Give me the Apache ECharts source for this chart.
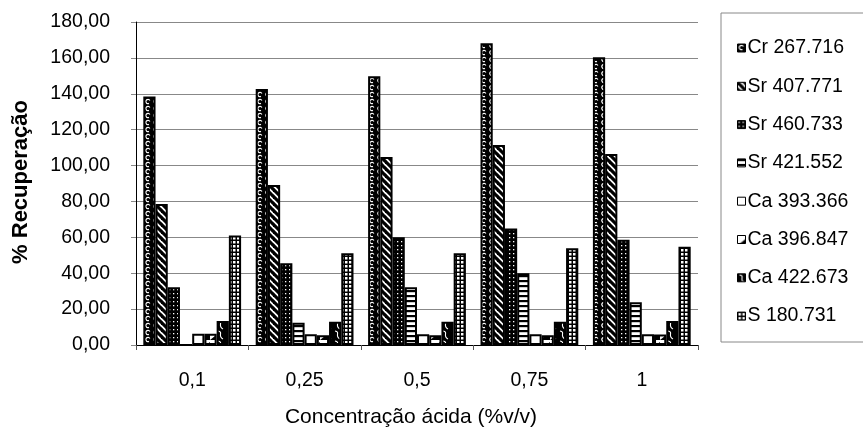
<!DOCTYPE html>
<html>
<head>
<meta charset="utf-8">
<script src="https://cdn.jsdelivr.net/npm/echarts@6/dist/echarts.min.js"></script>
<style>
  html, body { margin: 0; padding: 0; background: #fff; }
  #chart { width: 863px; height: 428px; }
</style>
</head>
<body>
<div id="chart"></div>
<script>
// Acid concentration groups on the x axis
const categories = ['0,1', '0,25', '0,5', '0,75', '1'];

// Emission lines shown in the legend
const seriesNames = ['Cr 267.716', 'Sr 407.771', 'Sr 460.733', 'Sr 421.552',
                     'Ca 393.366', 'Ca 396.847', 'Ca 422.673', 'S 180.731'];

// % recovery per line, one value per concentration
const cr267 = [138.5, 142.6, 149.7, 168.2, 160.4];
const sr407 = [78.6, 89.2, 104.7, 111.5, 106.5];
const sr460 = [32.2, 45.6, 60.0, 64.9, 58.6];
const sr421 = [0, 12.4, 32.2, 40.0, 23.8];
const ca393 = [6.3, 6.0, 6.0, 6.0, 6.0];
const ca396 = [6.2, 5.5, 5.5, 5.5, 5.8];
const ca422 = [13.4, 13.0, 13.0, 13.0, 13.4];
const s180 = [61.0, 51.1, 51.1, 53.9, 54.8];

const seriesValues = [cr267, sr407, sr460, sr421, ca393, ca396, ca422, s180];

// y scale
const yMin = 0, yMax = 180, yStep = 20;

// --- monochrome fill patterns drawn on small canvas tiles ---
function tile(w, h, draw) {
  const c = document.createElement('canvas');
  c.width = w; c.height = h;
  const g = c.getContext('2d');
  draw(g, w, h);
  return { image: c, repeat: 'repeat' };
}

const fills = [
  // rings chained vertically, white on black
  tile(8, 7, (g, w, h) => {
    g.fillStyle = '#000'; g.fillRect(0, 0, w, h);
    g.strokeStyle = '#fff'; g.lineWidth = 1.2;
    g.beginPath(); g.arc(4, 3.5, 2.1, 0.35 * Math.PI, 1.85 * Math.PI); g.stroke();
  }),
  // wide black backslash stripes on white
  tile(7, 7, (g, w, h) => {
    g.fillStyle = '#fff'; g.fillRect(0, 0, w, h);
    g.strokeStyle = '#000'; g.lineWidth = 3.2;
    for (let o = -w; o <= w; o += w) {
      g.beginPath(); g.moveTo(o - 1, -1); g.lineTo(o + w + 1, h + 1); g.stroke();
    }
  }),
  // white dots on black
  tile(4, 4, (g, w, h) => {
    g.fillStyle = '#000'; g.fillRect(0, 0, w, h);
    g.fillStyle = '#fff'; g.fillRect(1, 1, 1.3, 1.3);
  }),
  // horizontal stripes
  tile(4, 5, (g, w, h) => {
    g.fillStyle = '#fff'; g.fillRect(0, 0, w, h);
    g.fillStyle = '#000'; g.fillRect(0, 0, w, 2.2);
  }),
  // plain white
  tile(4, 4, (g, w, h) => {
    g.fillStyle = '#fff'; g.fillRect(0, 0, w, h);
  }),
  // large diagonal wedge
  tile(10, 10, (g, w, h) => {
    g.fillStyle = '#fff'; g.fillRect(0, 0, w, h);
    g.fillStyle = '#000';
    g.beginPath(); g.moveTo(0, h); g.lineTo(w, 2); g.lineTo(w, h); g.closePath(); g.fill();
  }),
  // white squiggles on black
  tile(9, 10, (g, w, h) => {
    g.fillStyle = '#000'; g.fillRect(0, 0, w, h);
    g.strokeStyle = '#fff'; g.lineWidth = 1.1;
    g.beginPath(); g.moveTo(2, 1); g.bezierCurveTo(8, 2, 1, 6, 7, 9); g.stroke();
  }),
  // small white squares in a black grid
  tile(4, 4, (g, w, h) => {
    g.fillStyle = '#000'; g.fillRect(0, 0, w, h);
    g.fillStyle = '#fff'; g.fillRect(1, 1, 2.5, 2.5);
  })
];

const FONT = 'Liberation Sans, Arial, sans-serif';

const series = seriesNames.map((name, i) => ({
  name: name,
  type: 'bar',
  data: seriesValues[i],
  barGap: '0%',
  barCategoryGap: '13%',
  itemStyle: { color: fills[i], borderColor: '#000', borderWidth: 2 },
  emphasis: { disabled: true },
  animation: false
}));

const chart = echarts.init(document.getElementById('chart'), null, { renderer: 'canvas' });

chart.setOption({
  animation: false,
  backgroundColor: '#fff',
  grid: { left: 136, right: 165, top: 22, bottom: 83, containLabel: false },
  xAxis: {
    type: 'category',
    data: categories,
    axisLine: { show: true, lineStyle: { color: '#000', width: 1 } },
    axisTick: { show: true, alignWithLabel: false, length: 5, lineStyle: { color: '#555' } },
    axisLabel: { color: '#000', fontSize: 19.5, fontFamily: FONT, margin: 26 },
    splitLine: { show: false }
  },
  yAxis: {
    type: 'value',
    min: yMin, max: yMax, interval: yStep,
    axisLine: { show: true, lineStyle: { color: '#000', width: 1 } },
    axisTick: { show: true, length: 5, lineStyle: { color: '#888' } },
    axisLabel: {
      color: '#000', fontSize: 19.5, fontFamily: FONT, margin: 26,
      formatter: v => v.toFixed(2).replace('.', ',')
    },
    splitLine: { show: true, lineStyle: { color: '#888', width: 1 } }
  },
  legend: {
    orient: 'vertical',
    left: 737,
    top: 38,
    padding: 0,
    icon: 'rect',
    itemWidth: 8,
    itemHeight: 8,
    itemGap: 18.3,
    selectedMode: false,
    itemStyle: { borderColor: '#000', borderWidth: 1 },
    textStyle: { color: '#000', fontSize: 19.5, fontFamily: FONT, lineHeight: 20, padding: [0, 0, 0, -3] },
    data: seriesNames
  },
  graphic: [
    {
      type: 'rect',
      shape: { x: 721, y: 13, width: 150, height: 329 },
      style: { fill: 'none', stroke: '#888', lineWidth: 1 },
      silent: true
    },
    {
      type: 'text',
      x: 411, y: 417,
      style: {
        text: 'Concentração ácida (%v/v)',
        fill: '#000', font: '21px ' + FONT,
        textAlign: 'center', textVerticalAlign: 'middle'
      },
      silent: true
    },
    {
      type: 'text',
      x: 21, y: 182,
      rotation: Math.PI / 2,
      style: {
        text: '% Recuperação',
        fill: '#000', font: 'bold 22px ' + FONT,
        textAlign: 'center', textVerticalAlign: 'middle'
      },
      silent: true
    }
  ],
  series: series
});
</script>
</body>
</html>
